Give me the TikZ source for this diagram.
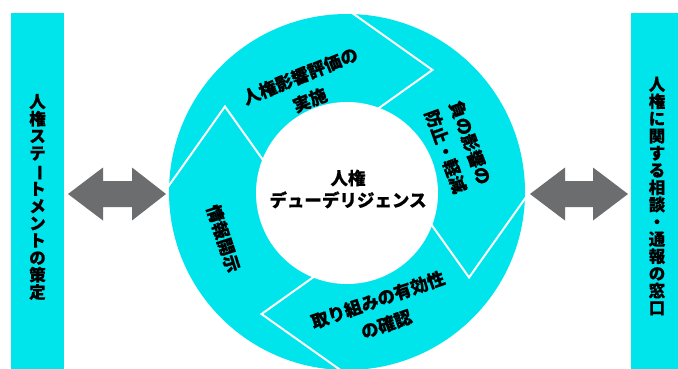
\documentclass[tikz,border=0pt]{standalone}
\usepackage{fontspec}
\usepackage{graphicx}
\newfontfamily\jp{Noto Sans CJK JP}[BoldFeatures={FakeBold=0.3}]
\definecolor{ringcyan}{RGB}{0,228,236}
\definecolor{arrowgray}{RGB}{108,109,111}
\tikzset{
  sidebar/.style={fill=ringcyan, draw=none, inner sep=0, anchor=south west},
  dblarrow/.style={fill=arrowgray, draw=none},
  seam/.style={draw=white, line width=2pt, line join=miter},
  ringlabel/.style={font=\jp\bfseries\fontsize{17.5}{26}\selectfont, align=center, text=black, inner sep=0},
  corelabel/.style={font=\jp\bfseries\fontsize{17.5}{22}\selectfont, align=center, text=black, inner sep=0},
  vlabel/.style={font=\jp\bfseries\fontsize{16.5}{17.2}\selectfont, align=center, text=black, inner sep=0},
}
\newcommand\vchoon{\rotatebox[origin=c]{-90}{ー}}
\begin{document}
\begin{tikzpicture}[x=1pt,y=1pt]
\useasboundingbox (0,0) rectangle (678,368);
\fill[white] (0,0) rectangle (678,368);
% side bars
\node[sidebar, minimum width=53, minimum height=358] (lbar) at (11,-3) {};
\node[sidebar, minimum width=50, minimum height=358] (rbar) at (631,-3) {};
\node[vlabel] (ltext) at (37.5,171) {人\\権\\ス\\テ\\\vchoon\\ト\\メ\\ン\\ト\\の\\策\\定};
\node[vlabel] (rtext) at (657,172) {人\\権\\に\\関\\す\\る\\相\\談\\・\\通\\報\\の\\窓\\口};
% ring
\coordinate (c) at (347,176);
\fill[ringcyan] (c) circle (178);
\begin{scope}
  \clip (c) circle (178);
  \foreach \t in {91,1,-89,-179} {
    \draw[seam, shift={(c)}] (\t:185) -- (\t-36:149) -- (\t-17:80);
  }
\end{scope}
\node[circle, fill=white, minimum size=182, inner sep=0] (core) at (347,175) {};
\node[corelabel] (coretext) at (348,179) {人権\\デューデリジェンス};
% ring labels
\node[ringlabel, rotate=22] (l1) at (305,280) {人権影響評価の\\実施};
\node[ringlabel, rotate=-70] (l2) at (458,221) {負の影響の\\防止・軽減};
\node[ringlabel, rotate=19] (l3) at (382,56) {取り組みの有効性\\の確認};
\node[ringlabel, rotate=-72] (l4) at (223.5,129.5) {情報開示};
% double arrows
\coordinate (la) at (117,174);
\coordinate (ra) at (579,174);
\fill[dblarrow, shift={(la)}] (-49,0) -- (-14,26.5) -- (-14,13) -- (15,13) -- (15,26.5) -- (49,0)
  -- (15,-26.5) -- (15,-13) -- (-14,-13) -- (-14,-26.5) -- cycle;
\fill[dblarrow, shift={(ra)}] (-49,0) -- (-14,26.5) -- (-14,13) -- (14,13) -- (14,26.5) -- (49,0)
  -- (14,-26.5) -- (14,-13) -- (-14,-13) -- (-14,-26.5) -- cycle;
\end{tikzpicture}
\end{document}
